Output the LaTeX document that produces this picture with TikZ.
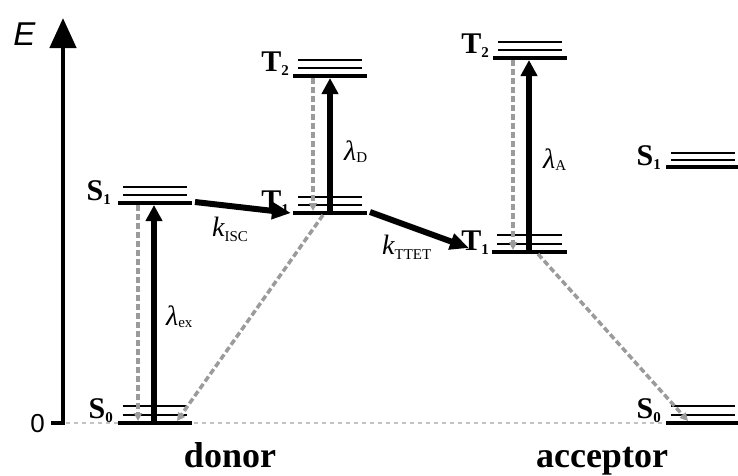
\documentclass[tikz,border=0pt]{standalone}
\usepackage{fontspec}
\setmainfont{Liberation Serif}
\newfontfamily\axisfont{Liberation Sans}
\usetikzlibrary{arrows.meta}
\definecolor{decaygray}{RGB}{155,155,155}
\definecolor{zerogray}{RGB}{195,195,195}
\newcommand{\lvname}[2]{#1\raisebox{-4pt}{\fontsize{15}{15}\selectfont #2}}
\newcommand{\ratename}[3]{#1\raisebox{-#3}{\fontsize{15}{15}\selectfont\upshape #2}}
\newcommand{\elevel}[4]{%
  \draw[level] (#1,#3) -- (#2,#3);
  \draw[sublevel] (#1+5,#3-#4) -- (#2-5,#3-#4);
  \draw[sublevel] (#1+5,#3-2*#4) -- (#2-5,#3-2*#4);}
\begin{document}
\begin{tikzpicture}[x=1pt,y=-1pt,
  level/.style={line width=4.5pt},
  sublevel/.style={line width=2pt},
  statelabel/.style={font=\fontsize{30}{30}\selectfont\bfseries, inner sep=0pt, anchor=base east},
  ratelabel/.style={font=\fontsize{28}{28}\selectfont\itshape, inner sep=0pt, anchor=base west},
  excite/.style={line width=5.5pt, -{Triangle[length=16pt,width=16pt]}},
  transfer/.style={line width=6pt, -{Triangle[length=19pt,width=16pt]}},
  decay/.style={draw=decaygray, line width=3.5pt, dash pattern=on 6pt off 3pt, -{Triangle[length=8pt,width=8pt]}},
  groupname/.style={font=\fontsize{36}{36}\selectfont\bfseries, inner sep=0pt, anchor=base},
]
\useasboundingbox (0,0) rectangle (738,475);

% zero line
\coordinate (zl) at (66,423);
\coordinate (zr) at (666,423);
\draw[zerogray, line width=1.3pt, dash pattern=on 4pt off 4pt] (zl) -- (zr);

% energy axis
\coordinate (ax0) at (51,423);
\coordinate (axtop) at (63,18);
\draw[line width=4.5pt, -{Triangle[length=30pt,width=26pt]}] (ax0) -| (axtop);
\node[font=\axisfont\itshape\fontsize{33}{33}\selectfont, inner sep=0pt] (E) at (24.5,34) {E};
\node[font=\axisfont\fontsize{26}{26}\selectfont, inner sep=0pt] (zero) at (37.5,424) {0};

% levels
\elevel{118}{192}{423}{8.5}
\elevel{118}{192}{203}{8}
\elevel{293}{367}{213}{8}
\elevel{293}{367}{76}{8}
\elevel{492}{567}{252}{8.5}
\elevel{493}{567}{58}{8}
\elevel{666}{740}{167}{7}
\elevel{666}{740}{423}{8.5}

% state labels
\node[statelabel] (dS0) at (113,418) {\lvname{S}{0}};
\node[statelabel] (dS1) at (111,200) {\lvname{S}{1}};
\node[statelabel] (dT1) at (289,210) {\lvname{T}{1}};
\node[statelabel] (dT2) at (289,71) {\lvname{T}{2}};
\node[statelabel] (aT1) at (489,250) {\lvname{T}{1}};
\node[statelabel] (aT2) at (489,53) {\lvname{T}{2}};
\node[statelabel] (aS1) at (661,165) {\lvname{S}{1}};
\node[statelabel] (aS0) at (661,418) {\lvname{S}{0}};

% connector end points
\coordinate (exA) at (154,425);
\coordinate (exB) at (154,205);
\coordinate (dcA) at (138,205);
\coordinate (dcB) at (138,421);
\coordinate (iscA) at (195,202);
\coordinate (iscB) at (291,213);
\coordinate (ldA) at (330,215);
\coordinate (ldB) at (330,78);
\coordinate (ddA) at (313,78);
\coordinate (ddB) at (313,211);
\coordinate (dtA) at (323,215);
\coordinate (dtB) at (177,421);
\coordinate (ttA) at (370,212);
\coordinate (ttB) at (469,248);
\coordinate (laA) at (529,254);
\coordinate (laB) at (529,60);
\coordinate (adA) at (513,60);
\coordinate (adB) at (513,250);
\coordinate (atA) at (538,254);
\coordinate (atB) at (688,421);

% decays (gray dashed)
\draw[decay] (dcA) -- (dcB);
\draw[decay] (ddA) -- (ddB);
\draw[decay] (dtA) -- (dtB);
\draw[decay] (adA) -- (adB);
\draw[decay] (atA) -- (atB);

% excitations and transfers
\draw[excite] (exA) -- (exB);
\draw[excite] (ldA) -- (ldB);
\draw[excite] (laA) -- (laB);
\draw[transfer] (iscA) -- (iscB);
\draw[transfer] (ttA) -- (ttB);

% rate labels
\node[ratelabel] (lex) at (166,325) {\ratename{λ}{ex}{2pt}};
\node[ratelabel] (lD) at (344,160) {\ratename{λ}{D}{2pt}};
\node[ratelabel] (lA) at (543,168) {\ratename{λ}{A}{2pt}};
\node[ratelabel] (kisc) at (212,236) {\ratename{k}{ISC}{5pt}};
\node[ratelabel] (ktt) at (382,254) {\ratename{k}{TTET}{5pt}};

% group names
\node[groupname] (donor) at (230,467) {donor};
\node[groupname] (acceptor) at (602,467) {acceptor};
\end{tikzpicture}
\end{document}
